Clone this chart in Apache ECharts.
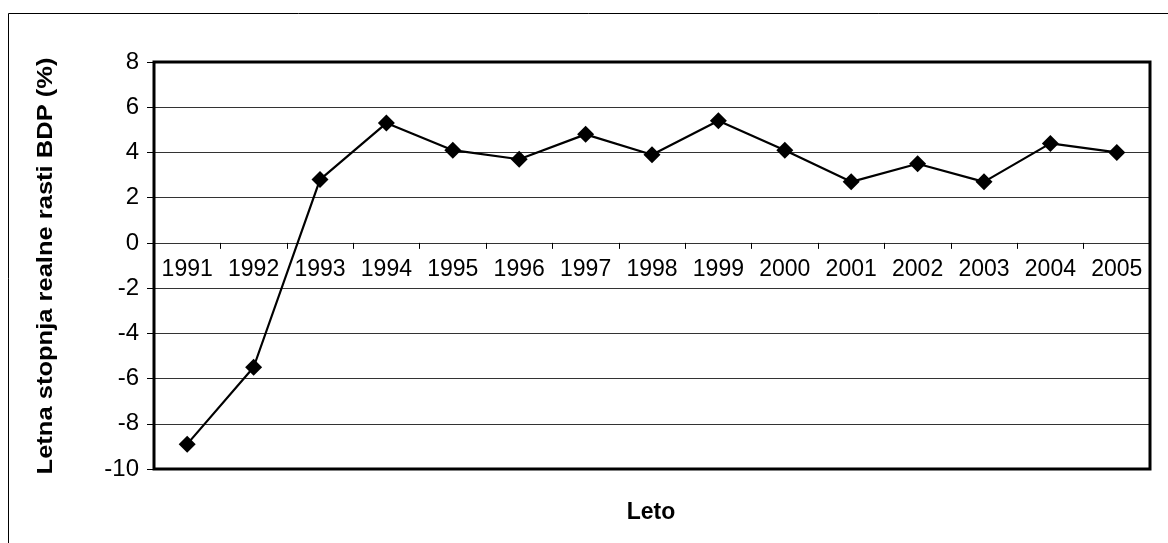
<!DOCTYPE html>
<html>
<head>
<meta charset="utf-8">
<script src="https://cdn.jsdelivr.net/npm/echarts@6/dist/echarts.min.js"></script>
<style>
html,body{margin:0;padding:0;background:#fff;}
#chart{width:1168px;height:543px;}
</style>
</head>
<body>
<div id="chart"></div>
<script>
const years = ['1991','1992','1993','1994','1995','1996','1997','1998','1999','2000','2001','2002','2003','2004','2005'];
const growth = [-8.9, -5.5, 2.8, 5.3, 4.1, 3.7, 4.8, 3.9, 5.4, 4.1, 2.7, 3.5, 2.7, 4.4, 4.0];
const yAxisTitle = 'Letna stopnja realne rasti BDP (%)';
const xAxisTitle = 'Leto';

const chart = echarts.init(document.getElementById('chart'), null, {renderer: 'canvas'});
const font = 'Arial, "Liberation Sans", sans-serif';
const option = {
  animation: false,
  backgroundColor: '#fff',
  grid: {
    left: 154, top: 62, right: 18, bottom: 74,
    show: true, borderColor: '#000', borderWidth: 3, backgroundColor: 'transparent', z: 3
  },
  xAxis: {
    type: 'category',
    data: years,
    boundaryGap: true,
    offset: 0,
    axisLine: {show: true, onZero: false, lineStyle: {color: '#333', width: 1}},
    axisTick: {show: true, length: 6, lineStyle: {color: '#000', width: 1}},
    axisLabel: {color: '#000', fontFamily: font, fontSize: 23, margin: 15, interval: 0},
    splitLine: {show: false}
  },
  yAxis: {
    type: 'value',
    min: -10, max: 8, interval: 2,
    axisLine: {show: true, lineStyle: {color: '#000', width: 2}},
    axisTick: {show: true, length: 7, lineStyle: {color: '#000', width: 1}},
    axisLabel: {color: '#000', fontFamily: font, fontSize: 24, margin: 15},
    splitLine: {show: true, lineStyle: {color: '#333', width: 1}}
  },
  graphic: [
    {type: 'rect', silent: true, shape: {x: 8.5, y: 13.5, width: 1300, height: 700},
     style: {fill: 'none', stroke: '#000', lineWidth: 1}},
    {type: 'text', silent: true, x: 651, y: 513,
     style: {text: xAxisTitle, font: 'bold 23px Arial, "Liberation Sans", sans-serif', fill: '#000', align: 'center', verticalAlign: 'middle'}},
    {type: 'text', silent: true, x: 46, y: 266, rotation: Math.PI / 2, scaleX: 1.16, scaleY: 1,
     style: {text: yAxisTitle, font: 'bold 22px Arial, "Liberation Sans", sans-serif', fill: '#000', align: 'center', verticalAlign: 'middle'}}
  ],
  series: [{
    type: 'line',
    data: growth,
    symbol: 'diamond',
    symbolSize: 17,
    showAllSymbol: true,
    lineStyle: {color: '#000', width: 2.2},
    itemStyle: {color: '#000', borderWidth: 0},
    z: 5
  }]
};
chart.setOption(option);
// place the category axis on the value axis' zero, using the library's own scale
const zeroY = chart.convertToPixel({yAxisIndex: 0}, 0);
const minY = chart.convertToPixel({yAxisIndex: 0}, -10);
chart.setOption({xAxis: {offset: -(minY - zeroY)}});
</script>
</body>
</html>
